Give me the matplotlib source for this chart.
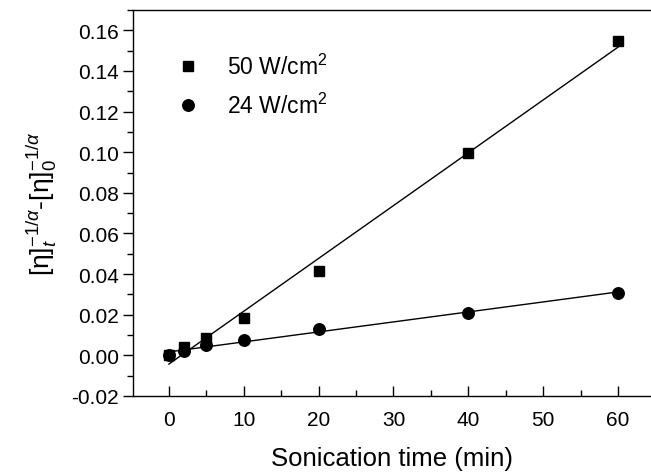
import numpy as np
import matplotlib
matplotlib.use("Agg")
import matplotlib.pyplot as plt
from matplotlib.ticker import MultipleLocator, FormatStrFormatter

plt.rcParams["font.family"] = ["Liberation Sans", "DejaVu Sans"]
plt.rcParams["mathtext.fontset"] = "custom"
plt.rcParams["mathtext.rm"] = "Liberation Sans"
plt.rcParams["mathtext.it"] = "Liberation Sans:italic"

# sonication time (min)
time_min = [0, 2, 5, 10, 20, 40, 60]
# [eta]_t^(-1/a) - [eta]_0^(-1/a)
y_50w = [0.0, 0.0041, 0.0085, 0.0184, 0.0413, 0.0995, 0.1545]
y_24w = [0.0, 0.0020, 0.0049, 0.0078, 0.0130, 0.0208, 0.0309]
labels = ["50 W/cm$^2$", "24 W/cm$^2$"]

fig = plt.figure(figsize=(6.51, 4.77), dpi=100)
ax = fig.add_axes([133 / 651, 1 - 397 / 477, 1 - 133 / 651, (397 - 11) / 477])

t = np.array(time_min, dtype=float)
for y, mk, ms, lab in [(y_50w, "s", 7.5, labels[0]), (y_24w, "o", 8.3, labels[1])]:
    ax.plot(t, y, ls="none", marker=mk, ms=ms, color="black", label=lab)
    k, b = np.polyfit(t, y, 1)
    xx = np.array([t.min(), t.max()])
    ax.plot(xx, k * xx + b, color="black", lw=1.0)

ax.set_xlim(-4.8, 64.4)
ax.set_ylim(-0.02, 0.17)
ax.xaxis.set_major_locator(MultipleLocator(10))
ax.xaxis.set_minor_locator(MultipleLocator(5))
ax.yaxis.set_major_locator(MultipleLocator(0.02))
ax.yaxis.set_minor_locator(MultipleLocator(0.01))
ax.yaxis.set_major_formatter(FormatStrFormatter("%.2f"))
ax.tick_params(axis="x", which="both", direction="in", labelsize=15, pad=10)
ax.tick_params(axis="x", which="major", length=7, width=1)
ax.tick_params(axis="x", which="minor", length=4, width=1)
ax.tick_params(axis="y", which="both", direction="out", labelsize=15, pad=3)
ax.tick_params(axis="y", which="major", length=7, width=1)
ax.tick_params(axis="y", which="minor", length=4, width=1)
ax.spines["right"].set_visible(False)
for s in ["left", "bottom", "top"]:
    ax.spines[s].set_linewidth(1.0)

ax.set_xlabel("Sonication time (min)", fontsize=18.5, labelpad=12)
ax.set_ylabel(r"[η]$_t^{-1/\alpha}$-[η]$_0^{-1/\alpha}$", fontsize=19, labelpad=9)

ax.legend(loc="upper left", bbox_to_anchor=(0.035, 0.94), frameon=False,
          fontsize=16.5, handletextpad=1.0, labelspacing=0.6,
          handlelength=1.4)

fig.savefig("out.png", dpi=100)
